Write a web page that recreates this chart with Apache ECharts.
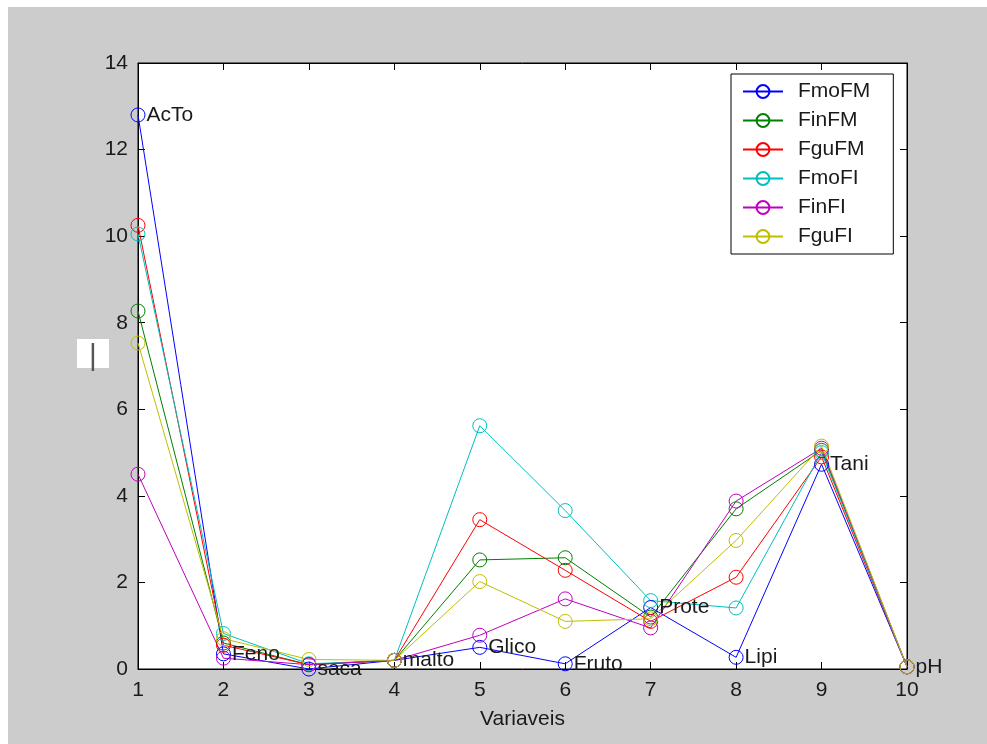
<!DOCTYPE html>
<html>
<head>
<meta charset="utf-8">
<script src="https://cdn.jsdelivr.net/npm/echarts@6/dist/echarts.min.js"></script>
<style>
  html, body { margin: 0; padding: 0; background: #fff; }
  #chart { width: 987px; height: 744px; }
</style>
</head>
<body>
<div id="chart"></div>
<script>
// Variable indices along the x axis and the name printed next to each FmoFM point
const variables = [1, 2, 3, 4, 5, 6, 7, 8, 9, 10];
const pointNames = ['AcTo', 'Feno', 'saca', 'malto', 'Glico', 'Fruto', 'Prote', 'Lipi', 'Tani', 'pH'];

// Series values per variable
const FmoFM = [12.8, 0.35, 0.0, 0.2, 0.5, 0.12, 1.42, 0.27, 4.73, 0.05];
const FinFM = [8.27, 0.6, 0.1, 0.2, 2.52, 2.57, 1.2, 3.7, 5.05, 0.05];
const FguFM = [10.25, 0.55, 0.1, 0.2, 3.45, 2.28, 1.1, 2.12, 4.9, 0.05];
const FmoFI = [10.05, 0.82, 0.12, 0.2, 5.62, 3.66, 1.58, 1.41, 5.0, 0.05];
const FinFI = [4.5, 0.25, 0.1, 0.2, 0.78, 1.62, 0.95, 3.88, 5.1, 0.05];
const FguFI = [7.53, 0.7, 0.22, 0.2, 2.02, 1.1, 1.16, 2.97, 5.15, 0.05];

const seriesDefs = [
  { name: 'FmoFM', values: FmoFM, color: '#0000ff' },
  { name: 'FinFM', values: FinFM, color: '#008000' },
  { name: 'FguFM', values: FguFM, color: '#ff0000' },
  { name: 'FmoFI', values: FmoFI, color: '#00bfbf' },
  { name: 'FinFI', values: FinFI, color: '#bf00bf' },
  { name: 'FguFI', values: FguFI, color: '#bfbf00' }
];

const FONT = 'Liberation Sans, Arial, sans-serif';
const TEXT = '#1a1a1a';

const chart = echarts.init(document.getElementById('chart'));

const series = seriesDefs.map(function (s, idx) {
  const item = {
    name: s.name,
    type: 'line',
    xAxisIndex: 0,
    yAxisIndex: 0,
    data: variables.map(function (x, i) { return [x, s.values[i]]; }),
    symbol: 'circle',
    symbolSize: 14,
    showAllSymbol: true,
    animation: false,
    color: s.color,
    lineStyle: { color: s.color, width: 1 },
    itemStyle: { color: 'rgba(0,0,0,0)', borderColor: s.color, borderWidth: 1 },
    emphasis: { disabled: true }
  };
  if (idx === 0) {
    item.label = {
      show: true,
      position: 'right',
      distance: 1,
      color: TEXT,
      fontFamily: FONT,
      fontSize: 21,
      formatter: function (p) { return pointNames[p.dataIndex]; }
    };
  }
  return item;
});

const tickCommon = { show: true, inside: true, length: 7, lineStyle: { color: '#000', width: 1 } };

chart.setOption({
  animation: false,
  backgroundColor: '#cccccc',
  grid: {
    left: 138, top: 63, width: 769, height: 606,
    show: true, backgroundColor: '#ffffff', borderColor: '#000', borderWidth: 1
  },
  xAxis: [
    {
      type: 'value', min: 1, max: 10, interval: 1, position: 'bottom',
      name: 'Variaveis', nameLocation: 'middle', nameGap: 40,
      nameTextStyle: { color: TEXT, fontFamily: FONT, fontSize: 21 },
      axisLine: { show: true, onZero: false, lineStyle: { color: '#000', width: 1 } },
      axisTick: tickCommon,
      axisLabel: { color: TEXT, fontFamily: FONT, fontSize: 21, margin: 11, showMinLabel: true, showMaxLabel: true },
      splitLine: { show: false }
    },
    {
      type: 'value', min: 1, max: 10, interval: 1, position: 'top',
      axisLine: { show: true, onZero: false, lineStyle: { color: '#000', width: 1 } },
      axisTick: tickCommon,
      axisLabel: { show: false },
      splitLine: { show: false }
    }
  ],
  yAxis: [
    {
      type: 'value', min: 0, max: 14, interval: 2, position: 'left',
      axisLine: { show: true, onZero: false, lineStyle: { color: '#000', width: 1 } },
      axisTick: tickCommon,
      axisLabel: { color: TEXT, fontFamily: FONT, fontSize: 21, margin: 10 },
      splitLine: { show: false }
    },
    {
      type: 'value', min: 0, max: 14, interval: 2, position: 'right',
      axisLine: { show: true, onZero: false, lineStyle: { color: '#000', width: 1 } },
      axisTick: tickCommon,
      axisLabel: { show: false },
      splitLine: { show: false }
    }
  ],
  legend: {
    orient: 'vertical',
    left: 731, top: 74,
    padding: [7, 23, 7, 11],
    itemWidth: 40, itemHeight: 16, itemGap: 8,
    backgroundColor: '#ffffff', borderColor: '#000', borderWidth: 1, borderRadius: 0,
    selectedMode: false,
    textStyle: { color: TEXT, fontFamily: FONT, fontSize: 21, padding: [0, 0, 0, 10] },
    data: seriesDefs.map(function (s) { return s.name; })
  },
  graphic: [
    { type: 'rect', shape: { x: 0, y: 0, width: 987, height: 7 }, style: { fill: '#ffffff' }, silent: true },
    { type: 'rect', shape: { x: 0, y: 0, width: 8, height: 744 }, style: { fill: '#ffffff' }, silent: true },
    // y axis title
    { type: 'rect', shape: { x: 77, y: 339, width: 32, height: 29 }, style: { fill: '#ffffff' }, silent: true },
    {
      type: 'text', x: 93, y: 357, silent: true,
      style: { text: '|', fill: '#555', font: '30px ' + FONT, align: 'center', verticalAlign: 'middle' }
    }
  ],
  series: series
});
</script>
</body>
</html>
